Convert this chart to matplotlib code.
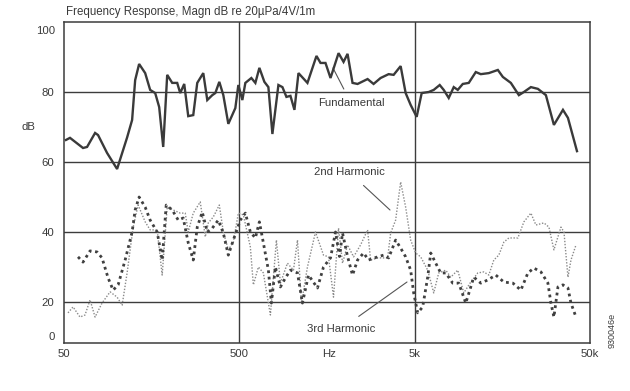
import matplotlib
matplotlib.use("Agg")
import matplotlib.pyplot as plt

plt.rcParams['font.family'] = ['Liberation Sans', 'DejaVu Sans']

# ---------------- data ----------------
fund_f = [51.3, 54.1, 64.2, 67.7, 75.2, 78.2, 88.0, 100.4, 114.5, 122.3, 127.3, 134.1, 145.2, 155.0,
          165.6, 174.5, 184.0, 193.9, 207.1, 221.1, 230.0, 242.5, 255.6, 273.0, 287.7, 311.4, 328.2,
          350.5, 364.7, 384.4, 405.2, 432.7, 474.4, 493.5, 520.2, 541.1, 585.5, 617.2, 650.6, 694.7,
          732.3, 771.9, 835.3, 880.5, 928.1, 978.3, 1031, 1087, 1223, 1377, 1452, 1550, 1656, 1840,
          1965, 2071, 2211, 2362, 2694, 2915, 3196, 3552, 3793, 4159, 4442, 4744, 5133, 5483, 6012,
          6422, 6947, 7323, 7821, 8353, 8805, 9404, 10175, 11157, 11916, 13238, 14907, 15921, 17685,
          19647, 20983, 23005, 25223, 28019, 31125, 35053, 37434, 42143]
fund_db = [66.3, 66.9, 64.0, 64.3, 68.3, 67.7, 62.6, 58.0, 67.0, 72.0, 83.4, 88.0, 85.4, 80.6,
           79.7, 75.7, 64.3, 84.9, 82.6, 82.6, 79.7, 82.3, 73.1, 73.4, 82.6, 85.4, 77.7,
           79.1, 79.7, 82.9, 79.1, 70.9, 75.4, 82.0, 77.7, 82.6, 84.0, 82.6, 86.9, 82.9,
           81.4, 68.0, 82.0, 81.4, 78.6, 78.9, 74.9, 85.4, 82.6, 90.3, 88.3, 88.3, 84.0, 91.1,
           88.6, 90.9, 82.6, 82.3, 83.7, 82.3, 84.0, 85.1, 84.9, 87.4, 79.7, 76.3, 72.9, 79.7, 80.0,
           80.6, 82.0, 80.6, 78.3, 81.4, 80.6, 82.3, 82.6, 85.7, 85.1, 85.4, 86.3, 84.3, 82.6,
           79.1, 80.0, 81.4, 80.9, 79.1, 70.6, 74.9, 72.6, 63.1]

h2_f = [52.7, 56.3, 61.7, 65.9, 70.4, 75.2, 82.4, 91.6, 100.4, 107.3, 114.5, 124.0, 132.4, 145.2,
        155.0, 170.0, 181.5, 193.9, 209.8, 230.0, 245.7, 255.6, 273.0, 299.3, 319.7, 332.6, 355.2,
        384.4, 405.2, 432.7, 462.1, 493.5, 527.1, 577.9, 601.1, 642.1, 685.6, 751.9, 813.6, 857.6,
        940.4, 1018, 1073, 1131, 1223, 1359, 1510, 1613, 1722, 1840, 1939, 2071, 2241, 2457, 2694,
        2803, 3073, 3506, 3647, 3894, 4159, 4442, 4744, 5066, 5411, 5933, 6422, 6857, 7519, 8030,
        8805, 9528, 10447, 11455, 12396, 13238, 14139, 15100, 16129, 17224, 19389, 20983, 23005,
        24570, 27304, 29154, 31125, 34147, 35522, 37434, 38940, 41591]
h2_db = [16.9, 18.6, 15.7, 16.3, 20.6, 15.7, 19.7, 22.9, 21.4, 19.1, 28.3, 41.4, 47.7, 42.9,
         40.6, 40.6, 27.7, 47.1, 46.3, 45.4, 45.4, 40.0, 45.4, 48.6, 38.6, 42.6, 44.3,
         47.7, 40.0, 34.9, 37.1, 45.4, 44.9, 35.7, 24.9, 30.0, 28.3, 16.3, 37.7, 25.4,
         31.1, 29.1, 37.7, 19.7, 30.0, 40.0, 33.4, 32.9, 21.4, 41.1, 31.1, 36.3, 32.9, 36.3, 40.6,
         32.0, 32.6, 32.6, 39.7, 43.4, 54.3, 47.1, 37.7, 34.0, 32.9, 29.1, 22.6, 28.3, 29.1, 27.1,
         29.1, 22.6, 25.7, 28.3, 28.6, 27.7, 32.0, 33.4, 37.1, 38.3, 38.3, 42.9, 45.4,
         42.0, 42.6, 41.4, 34.9, 41.4, 40.0, 27.1, 32.0, 36.3]

h3_f = [60.1, 64.2, 70.4, 77.2, 82.4, 89.2, 95.3, 101.8, 111.6, 122.3, 127.3, 134.1, 145.2, 155.0,
        170.0, 181.5, 191.4, 207.1, 224.1, 239.3, 255.6, 273.0, 287.7, 307.3, 328.2, 350.5, 379.3,
        405.2, 432.7, 462.1, 506.6, 541.1, 577.9, 617.2, 650.6, 685.6, 732.3, 761.8, 803.0, 857.6,
        916.0, 978.3, 1073, 1145, 1240, 1395, 1510, 1656, 1768, 1864, 1939, 2071, 2211, 2362, 2556,
        2730, 3073, 3326, 3552, 3894, 4159, 4442, 4744, 4935, 5202, 5556, 5933, 6174, 6592, 7039,
        7519, 8244, 8922, 9782, 10447, 10867, 11916, 13065, 14514, 16129, 18155, 20171, 22116,
        23932, 26242, 28771, 29930, 31125, 32826, 35053, 37434, 38940, 41591]
h3_db = [32.9, 31.4, 34.6, 34.3, 32.6, 26.9, 23.4, 24.9, 32.0, 40.0, 46.3, 50.0, 47.1, 43.4,
         40.0, 32.0, 47.7, 46.3, 43.4, 44.0, 36.9, 32.0, 41.4, 45.7, 40.0, 41.1, 43.4,
         39.7, 33.4, 37.7, 43.4, 45.4, 40.0, 38.3, 42.9, 36.9, 29.1, 19.7, 30.0, 24.3,
         26.9, 29.1, 28.3, 19.7, 27.7, 24.0, 30.0, 32.6, 40.0, 33.0, 39.7, 33.0, 27.7, 32.0, 34.0,
         32.0, 32.9, 33.4, 32.6, 37.7, 35.4, 32.9, 29.1, 22.6, 16.9, 18.6, 27.1, 34.0, 31.1, 28.3,
         28.3, 25.4, 25.4, 19.7, 24.3, 27.1, 25.4, 26.3, 27.7, 25.7, 25.4, 23.4, 28.3,
         29.7, 28.6, 25.4, 19.7, 15.7, 24.3, 24.9, 24.0, 19.7, 15.7]

x_ticks = [50, 500, 5000, 50000]
x_labels = ['50', '500', '5k', '50k']
y_ticks = [20, 40, 60, 80]
y_labels = ['20', '40', '60', '80']

# ---------------- figure ----------------
W, H = 630, 391
fig = plt.figure(figsize=(W / 100, H / 100), dpi=100)
fig.patch.set_facecolor('white')
ax = fig.add_axes([64 / W, 1 - 343 / H, 526 / W, 321 / H])

dark = '#3c3c3c'
txt = '#3a3a3a'

ax.set_xscale('log')
ax.set_xlim(50, 50000)
ax.set_ylim(8.29, 100)

for s in ax.spines.values():
    s.set_color(dark)
    s.set_linewidth(1.1)

for yv in y_ticks:
    ax.axhline(yv, color=dark, lw=1.0, zorder=1)
for xv in [500, 5000]:
    ax.axvline(xv, color=dark, lw=1.0, zorder=1)

ax.plot(h2_f, h2_db, color='#8a8a8a', lw=1.0, linestyle=(0, (1, 1.2)), zorder=2)
ax.plot(h3_f, h3_db, color='#404040', lw=2.0, linestyle=(0, (1, 1.3)), zorder=3)
ax.plot(fund_f, fund_db, color='#3a3a3a', lw=1.7, zorder=4, solid_joinstyle='miter')

ax.set_xticks(x_ticks)
ax.set_xticklabels(x_labels)
ax.xaxis.set_minor_locator(matplotlib.ticker.NullLocator())
ax.set_yticks(y_ticks)
ax.set_yticklabels(y_labels)
ax.tick_params(axis='both', length=0, labelsize=8.2, labelcolor=txt)
ax.tick_params(axis='y', pad=7)
ax.tick_params(axis='x', pad=4)

# extra y labels drawn at their printed positions
fig.text(55 / W, 1 - 31 / H, '100', ha='right', va='center', fontsize=8.2, color=txt)
fig.text(55 / W, 1 - 337 / H, '0', ha='right', va='center', fontsize=8.2, color=txt)
fig.text(28 / W, 1 - 127 / H, 'dB', ha='center', va='center', fontsize=8.2, color=txt)
fig.text(329 / W, 1 - 354 / H, 'Hz', ha='center', va='center', fontsize=8.2, color=txt)

fig.text(66 / W, 1 - 12 / H, 'Frequency Response, Magn dB re 20\u00b5Pa/4V/1m',
         ha='left', va='center', fontsize=8.3, color=txt)
fig.text(612 / W, 1 - 330 / H, '930046e', ha='center', va='center', rotation=90,
         fontsize=6.5, color=txt)

# annotations
def pix(x, y):
    return (x / W, 1 - y / H)

ax.annotate('Fundamental', xy=pix(333, 68), xycoords='figure fraction',
            xytext=pix(351, 103), textcoords='figure fraction', ha='center', va='center',
            fontsize=8.2, color=txt,
            arrowprops=dict(arrowstyle='-', color='#555555', lw=0.8, shrinkA=5, shrinkB=0))
ax.annotate('2nd Harmonic', xy=pix(390, 210), xycoords='figure fraction',
            xytext=pix(349, 172), textcoords='figure fraction', ha='center', va='center',
            fontsize=8.2, color=txt,
            arrowprops=dict(arrowstyle='-', color='#555555', lw=0.8, shrinkA=6, shrinkB=0))
ax.annotate('3rd Harmonic', xy=pix(407, 282), xycoords='figure fraction',
            xytext=pix(341, 329), textcoords='figure fraction', ha='center', va='center',
            fontsize=8.2, color=txt,
            arrowprops=dict(arrowstyle='-', color='#555555', lw=0.8, shrinkA=6, shrinkB=0))

fig.savefig('out.png', dpi=100, facecolor='white')
